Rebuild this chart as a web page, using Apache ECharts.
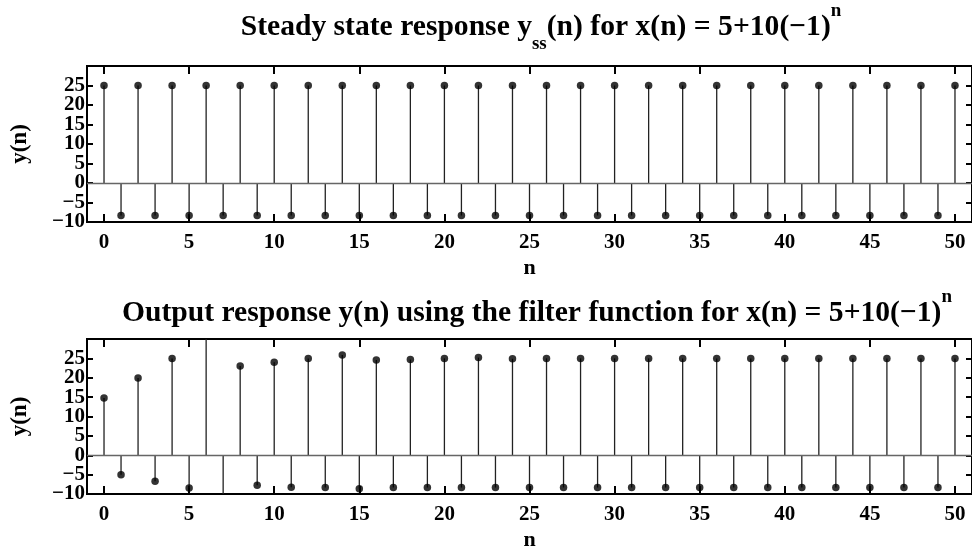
<!DOCTYPE html>
<html>
<head>
<meta charset="UTF-8">
<title>stem plots</title>
<script src="https://cdn.jsdelivr.net/npm/echarts@6/dist/echarts.min.js"></script>
<style>
  body { margin: 0; background: #fff; }
  #root { width: 972px; height: 554px; }
</style>
</head>
<body>
<div id="root"></div>
<script>
// sample index n
var nIdx = [0, 1, 2, 3, 4, 5, 6, 7, 8, 9, 10, 11, 12, 13, 14, 15, 16, 17, 18, 19, 20,
  21, 22, 23, 24, 25, 26, 27, 28, 29, 30, 31, 32, 33, 34, 35, 36, 37, 38, 39, 40,
  41, 42, 43, 44, 45, 46, 47, 48, 49, 50];

// steady state response yss(n)
var ySS = [25, -8.33, 25, -8.33, 25, -8.33, 25, -8.33, 25, -8.33, 25, -8.33, 25, -8.33, 25, -8.33,
  25, -8.33, 25, -8.33, 25, -8.33, 25, -8.33, 25, -8.33, 25, -8.33, 25, -8.33, 25, -8.33,
  25, -8.33, 25, -8.33, 25, -8.33, 25, -8.33, 25, -8.33, 25, -8.33, 25, -8.33, 25, -8.33,
  25, -8.33, 25];

// output of filter(), with the transient (n = 6, 7 run off the axes)
var yFilt = [14.8, -5.05, 19.95, -6.73, 25.0, -8.42, 60, -40, 23.06, -7.74, 24.0, -8.25,
  25.0, -8.33, 25.9, -8.67, 24.6, -8.33, 24.7, -8.33, 25.0, -8.33, 25.2, -8.33, 24.9, -8.33,
  25, -8.33, 25, -8.33, 25, -8.33, 25, -8.33, 25, -8.33, 25, -8.33, 25, -8.33, 25, -8.33,
  25, -8.33, 25, -8.33, 25, -8.33, 25, -8.33, 25];

var xTicks = [0, 5, 10, 15, 20, 25, 30, 35, 40, 45, 50];
var yTicks = [-10, -5, 0, 5, 10, 15, 20, 25, 30];
// y labels are split in two sets so echarts doesn't drop touching neighbours
var yLabelsA = [-10, 0, 10, 20];
var yLabelsB = [-5, 5, 15, 25];

var FONT = "'Liberation Serif', 'Times New Roman', serif";

function pairs(ys) {
  return nIdx.map(function (n, i) { return [n, ys[i]]; });
}

function fmtY(v) {
  return v < 0 ? '\u2212' + Math.abs(v) : String(v);
}

var tickStyle = { color: '#000', width: 2 };

function xAxes(g) {
  return [
    {
      gridIndex: g, type: 'value', min: -1, max: 51, position: 'bottom',
      name: 'n', nameLocation: 'middle', nameGap: 35,
      nameTextStyle: { fontFamily: FONT, fontWeight: 'bold', fontSize: 22, color: '#000' },
      axisLine: { show: false, onZero: false },
      axisTick: { inside: true, length: 8, customValues: xTicks, lineStyle: tickStyle },
      axisLabel: { customValues: xTicks, margin: 10, showMinLabel: true, showMaxLabel: true,
        fontFamily: FONT, fontWeight: 'bold', fontSize: 21, color: '#000' },
      splitLine: { show: false }
    },
    {
      gridIndex: g, type: 'value', min: -1, max: 51, position: 'top',
      axisLine: { show: false, onZero: false },
      axisTick: { inside: true, length: 8, customValues: xTicks, lineStyle: tickStyle },
      axisLabel: { show: false },
      splitLine: { show: false }
    }
  ];
}

function yLabelStyle(vals) {
  return {
    customValues: vals, margin: 2, formatter: fmtY, showMinLabel: true, showMaxLabel: true,
    fontFamily: FONT, fontWeight: 'bold', fontSize: 21, color: '#000'
  };
}

function yAxes(g) {
  return [
    {
      gridIndex: g, type: 'value', min: -10, max: 30, position: 'left',
      name: 'y(n)', nameLocation: 'middle', nameGap: 55, nameRotate: 90,
      nameTextStyle: { fontFamily: FONT, fontWeight: 'bold', fontSize: 23, color: '#000' },
      axisLine: { show: false, onZero: false },
      axisTick: { inside: true, length: 6, customValues: yTicks, lineStyle: tickStyle },
      axisLabel: yLabelStyle(yLabelsA),
      splitLine: { show: false }
    },
    {
      gridIndex: g, type: 'value', min: -10, max: 30, position: 'left', offset: 0,
      axisLine: { show: false, onZero: false },
      axisTick: { show: false },
      axisLabel: yLabelStyle(yLabelsB),
      splitLine: { show: false }
    },
    {
      gridIndex: g, type: 'value', min: -10, max: 30, position: 'right',
      axisLine: { show: false, onZero: false },
      axisTick: { inside: true, length: 6, customValues: yTicks, lineStyle: tickStyle },
      axisLabel: { show: false },
      splitLine: { show: false }
    }
  ];
}

function stemSeries(g, ys) {
  var data = pairs(ys);
  return [
    {
      type: 'custom', xAxisIndex: g * 2, yAxisIndex: g * 3, clip: true, silent: true,
      data: data,
      renderItem: function (params, api) {
        var p0 = api.coord([api.value(0), 0]);
        var p1 = api.coord([api.value(0), api.value(1)]);
        return {
          type: 'line',
          shape: { x1: p0[0], y1: p0[1], x2: p1[0], y2: p1[1] },
          style: { stroke: '#222', lineWidth: 1.3 }
        };
      },
      markLine: {
        silent: true, symbol: 'none', label: { show: false },
        lineStyle: { color: '#666', width: 1.3, type: 'solid' },
        data: [{ yAxis: 0 }]
      }
    },
    {
      type: 'scatter', xAxisIndex: g * 2, yAxisIndex: g * 3, clip: true, silent: true,
      symbol: 'circle', symbolSize: 7.5,
      itemStyle: { color: '#000' },
      data: data
    }
  ];
}

var titleRich = {
  b: { fontFamily: FONT, fontWeight: 'bold', fontSize: 29.6, color: '#000', lineHeight: 40, verticalAlign: 'middle' },
  sub: { fontFamily: FONT, fontWeight: 'bold', fontSize: 19, color: '#000', lineHeight: 40, verticalAlign: 'bottom', padding: [0, 0, -7, 0] },
  sup: { fontFamily: FONT, fontWeight: 'bold', fontSize: 19, color: '#000', lineHeight: 40, verticalAlign: 'top', padding: [-5, 0, 0, 0] }
};

var chart = echarts.init(document.getElementById('root'), null, { renderer: 'canvas' });

chart.setOption({
  backgroundColor: '#fff',
  animation: false,
  title: [
    {
      left: 536, top: 2, textAlign: 'center',
      text: '{b|Steady state response y}{sub|ss}{b|(n) for x(n) = 5+10(\u22121)}{sup|n}',
      textStyle: { rich: titleRich }
    },
    {
      left: 532, top: 288, textAlign: 'center',
      text: '{b|Output response y(n) using the filter function for x(n) = 5+10(\u22121)}{sup|n}',
      textStyle: { rich: titleRich }
    }
  ],
  grid: [
    { left: 87, top: 66, width: 890, height: 156, show: true, borderColor: '#000', borderWidth: 2, backgroundColor: 'transparent' },
    { left: 87, top: 339, width: 890, height: 155, show: true, borderColor: '#000', borderWidth: 2, backgroundColor: 'transparent' }
  ],
  xAxis: xAxes(0).concat(xAxes(1)),
  yAxis: yAxes(0).concat(yAxes(1)),
  series: stemSeries(0, ySS).concat(stemSeries(1, yFilt))
});
</script>
</body>
</html>
